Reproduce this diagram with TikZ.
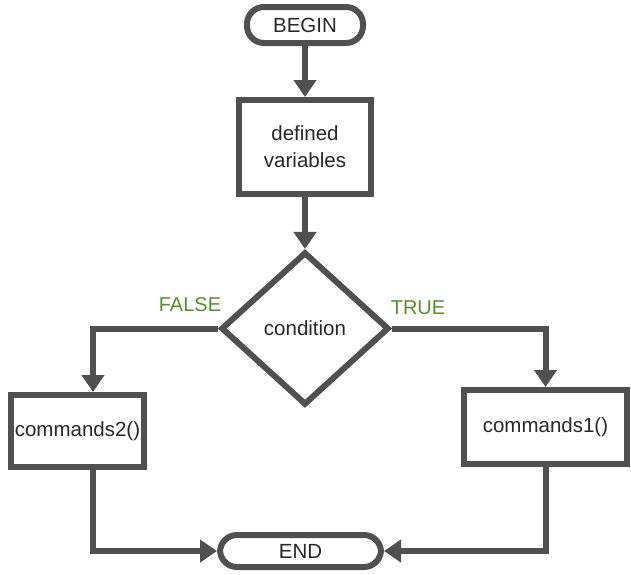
\documentclass[tikz,border=0pt]{standalone}
\usepackage{fontspec}
\setmainfont{Liberation Sans}
\usetikzlibrary{arrows.meta,shapes.geometric}
\definecolor{edge}{RGB}{80,80,80}
\definecolor{txt}{RGB}{40,40,40}
\definecolor{lbl}{RGB}{88,140,48}
\tikzset{
  base/.style={draw=edge, line width=6pt, fill=white, text=txt, inner sep=0pt,
    font=\fontsize{20.5}{27}\selectfont, align=center},
  terminal/.style={base, rounded corners=17pt},
  procbox/.style={base, rectangle},
  decision/.style={base, diamond},
  conn/.style={draw=edge, line width=6pt, -{Triangle[width=22pt,length=17pt]}},
  branchlabel/.style={text=lbl, font=\fontsize{20}{24}\selectfont}
}
\begin{document}
\begin{tikzpicture}[x=1pt,y=-1pt]
\useasboundingbox (0,0) rectangle (631,574);
\node[terminal, minimum width=116pt, minimum height=36pt] (begin) at (305,25) {BEGIN};
\node[procbox, minimum width=132pt, minimum height=94pt] (defvar) at (305,147) {defined\\variables};
\node[decision, minimum width=168pt, minimum height=153pt] (cond) at (305,328.5) {condition};
\node[procbox, minimum width=133pt, minimum height=72pt] (cmd2) at (77.5,431) {commands2()};
\node[procbox, minimum width=163pt, minimum height=74pt] (cmd1) at (545.5,427) {commands1()};
\node[terminal, minimum width=161pt, minimum height=32pt] (end) at (300.5,551) {END};

\node[branchlabel] (flabel) at (190,305) {FALSE};
\node[branchlabel] (tlabel) at (418,308) {TRUE};

\draw[conn] (begin) -- (defvar);
\draw[conn] (defvar) -- (cond);
\draw[conn] (cond.west) -| ([xshift=15.5pt]cmd2.north);
\draw[conn] (cond.east) -| (cmd1.north);
\draw[conn] ([xshift=15.5pt]cmd2.south) |- (end.west);
\draw[conn] (cmd1.south) |- (end.east);
\end{tikzpicture}
\end{document}
